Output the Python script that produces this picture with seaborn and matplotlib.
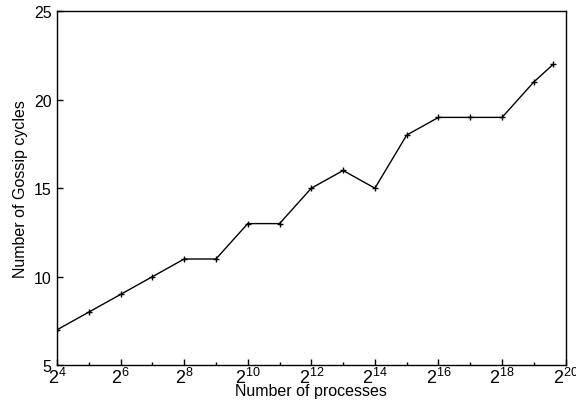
import math
import matplotlib
matplotlib.use("Agg")
import matplotlib.pyplot as plt
import matplotlib.ticker as mticker
import seaborn as sns
import pandas as pd

processes = [2**4, 2**5, 2**6, 2**7, 2**8, 2**9, 2**10, 2**11, 2**12, 2**13,
             2**14, 2**15, 2**16, 2**17, 2**18, 2**19, 800000]
cycles = [7, 8, 9, 10, 11, 11, 13, 13, 15, 16, 15, 18, 19, 19, 19, 21, 22]

df = pd.DataFrame({"processes": processes, "cycles": cycles})

sns.set_style("ticks")
plt.rcParams["font.family"] = ["Liberation Sans", "DejaVu Sans"]
plt.rcParams["mathtext.fontset"] = "custom"
plt.rcParams["mathtext.rm"] = "Liberation Sans"
plt.rcParams["mathtext.it"] = "Liberation Sans"
for k in ["text.color", "axes.labelcolor", "xtick.color", "ytick.color", "axes.edgecolor"]:
    plt.rcParams[k] = "black"

fig, ax = plt.subplots(figsize=(5.76, 4.06), dpi=100)
sns.lineplot(data=df, x="processes", y="cycles", ax=ax, color="black",
             linewidth=1.0, marker="+", markersize=5, markeredgewidth=1.0,
             markeredgecolor="black")

ax.set_xscale("log", base=2)
ax.set_xlim(2**4, 2**20)
ax.set_ylim(5, 25)
ax.xaxis.set_major_locator(mticker.FixedLocator([2**k for k in range(4, 21, 2)]))
ax.xaxis.set_minor_locator(mticker.FixedLocator([2**k for k in range(5, 20, 2)]))
ax.xaxis.set_major_formatter(mticker.FuncFormatter(
    lambda v, p: "$2^{%d}$" % round(math.log2(v))))
ax.xaxis.set_minor_formatter(mticker.NullFormatter())
ax.set_yticks([5, 10, 15, 20, 25])

ax.tick_params(axis="y", which="major", direction="in", length=4, width=1,
               labelsize=11.5, pad=4)
ax.tick_params(axis="x", which="major", direction="in", length=4, width=1,
               labelsize=13, pad=1)
ax.tick_params(axis="x", which="minor", direction="in", length=2.5, width=1)
for s in ax.spines.values():
    s.set_visible(True)
    s.set_linewidth(1.0)

ax.set_xlabel("Number of processes", fontsize=11.5, labelpad=-3)
ax.set_ylabel("Number of Gossip cycles", fontsize=11.5, labelpad=4)

fig.subplots_adjust(left=0.099, right=0.982, top=0.970, bottom=0.098)
fig.savefig("out.png", dpi=100)
